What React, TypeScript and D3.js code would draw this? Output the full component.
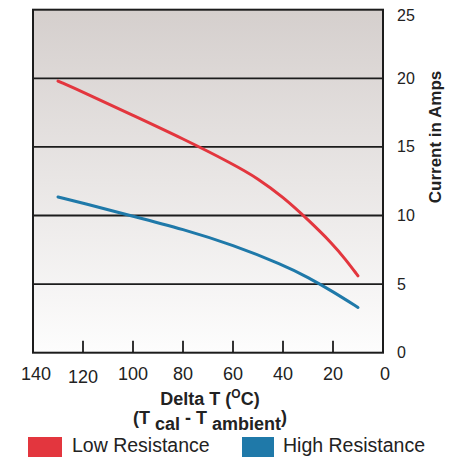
import * as d3 from 'd3';
import { useEffect } from 'react';

// values
const xTicks = [140, 120, 100, 80, 60, 40, 20, 0];
const yTicks = [0, 5, 10, 15, 20, 25];
const lowResistance: [number, number][] = [
  [130, 19.8],
  [120, 19.0],
  [100, 17.3],
  [80, 15.6],
  [60, 13.75],
  [50, 12.7],
  [40, 11.35],
  [30, 9.7],
  [20, 7.9],
  [15, 6.8],
  [10, 5.6],
];
const highResistance: [number, number][] = [
  [130, 11.35],
  [120, 10.9],
  [100, 9.95],
  [80, 9.0],
  [60, 7.85],
  [40, 6.4],
  [30, 5.5],
  [20, 4.45],
  [10, 3.3],
];
const seriesNames = ['Low Resistance', 'High Resistance'];
const seriesColors = ['#e3363e', '#1f79a9'];

export default function App() {
  useEffect(() => {
    document.body.style.margin = '0';
  }, []);

  const width = 455;
  const height = 457;
  const plot = { left: 33, right: 383, top: 9.7, bottom: 352.7 };
  const font = '"Liberation Sans", Arial, sans-serif';

  const xScale = d3.scaleLinear().domain([140, 0]).range([plot.left, plot.right]);
  const yScale = d3.scaleLinear().domain([0, 25]).range([plot.bottom, plot.top]);

  const line = d3
    .line<[number, number]>()
    .x((d) => xScale(d[0]))
    .y((d) => yScale(d[1]))
    .curve(d3.curveBasis);

  // inner ticks on the bottom edge, skipping the two border ends
  const innerTicks = xTicks.filter((t) => t !== 140 && t !== 0);

  return (
    <svg width={width} height={height} style={{ display: 'block' }} fontFamily={font}>
      <defs>
        <linearGradient id="bg" x1="0" y1="0" x2="0" y2="1">
          <stop offset="0%" stopColor="#d5cfcd" />
          <stop offset="100%" stopColor="#fdfdfd" />
        </linearGradient>
      </defs>
      <rect
        x={plot.left}
        y={plot.top}
        width={plot.right - plot.left}
        height={plot.bottom - plot.top}
        fill="url(#bg)"
      />
      {/* horizontal grid lines */}
      {yTicks
        .filter((t) => t !== 0 && t !== 25)
        .map((t) => (
          <line
            key={t}
            x1={plot.left}
            x2={plot.right}
            y1={yScale(t)}
            y2={yScale(t)}
            stroke="#1c1c1c"
            strokeWidth={1.8}
          />
        ))}
      {innerTicks.map((t) => (
        <line
          key={t}
          x1={xScale(t)}
          x2={xScale(t)}
          y1={plot.bottom}
          y2={plot.bottom - 12}
          stroke="#1c1c1c"
          strokeWidth={1.8}
        />
      ))}
      <rect
        x={plot.left}
        y={plot.top}
        width={plot.right - plot.left}
        height={plot.bottom - plot.top}
        fill="none"
        stroke="#1c1c1c"
        strokeWidth={2}
      />
      {/* curves */}
      {[lowResistance, highResistance].map((s, i) => (
        <path
          key={i}
          d={line(s) ?? ''}
          fill="none"
          stroke={seriesColors[i]}
          strokeWidth={3}
          strokeLinecap="round"
        />
      ))}
      {/* x tick labels */}
      {xTicks.map((t) => (
        <text
          key={t}
          x={xScale(t) + (t === 140 ? 3 : t === 0 ? 2 : 0)}
          y={t === 120 ? 383 : 380}
          fontSize={18}
          textAnchor="middle"
          fill="#222"
        >
          {t}
        </text>
      ))}
      {/* y tick labels, right side */}
      {yTicks.map((t) => (
        <text
          key={t}
          x={397}
          y={Math.max(yScale(t), 15)}
          fontSize={16}
          dominantBaseline="central"
          fill="#222"
        >
          {t}
        </text>
      ))}
      <text
        transform="translate(441,137) rotate(-90)"
        fontSize={17}
        fontWeight="bold"
        textAnchor="middle"
        fill="#222"
      >
        Current in Amps
      </text>
      {/* x axis title */}
      <text x={210} y={405} fontSize={18} fontWeight="bold" textAnchor="middle" fill="#222">
        Delta T (
        <tspan fontSize={12} dy={-7}>
          O
        </tspan>
        <tspan dy={7}>C)</tspan>
      </text>
      <text x={210} y={424} fontSize={18} fontWeight="bold" textAnchor="middle" fill="#222">
        (T
        <tspan dy={6}> cal</tspan>
        <tspan dy={-6}> - T</tspan>
        <tspan dy={6}> ambient</tspan>
        <tspan dy={-7}>)</tspan>
      </text>
      {/* legend */}
      {seriesNames.map((name, i) => {
        const lx = i === 0 ? 28 : 242;
        return (
          <g key={name}>
            <rect x={lx} y={437} width={i === 0 ? 34 : 32} height={22} fill={seriesColors[i]} />
            <text x={lx + (i === 0 ? 44 : 41)} y={452} fontSize={19.5} fill="#222">
              {name}
            </text>
          </g>
        );
      })}
    </svg>
  );
}
